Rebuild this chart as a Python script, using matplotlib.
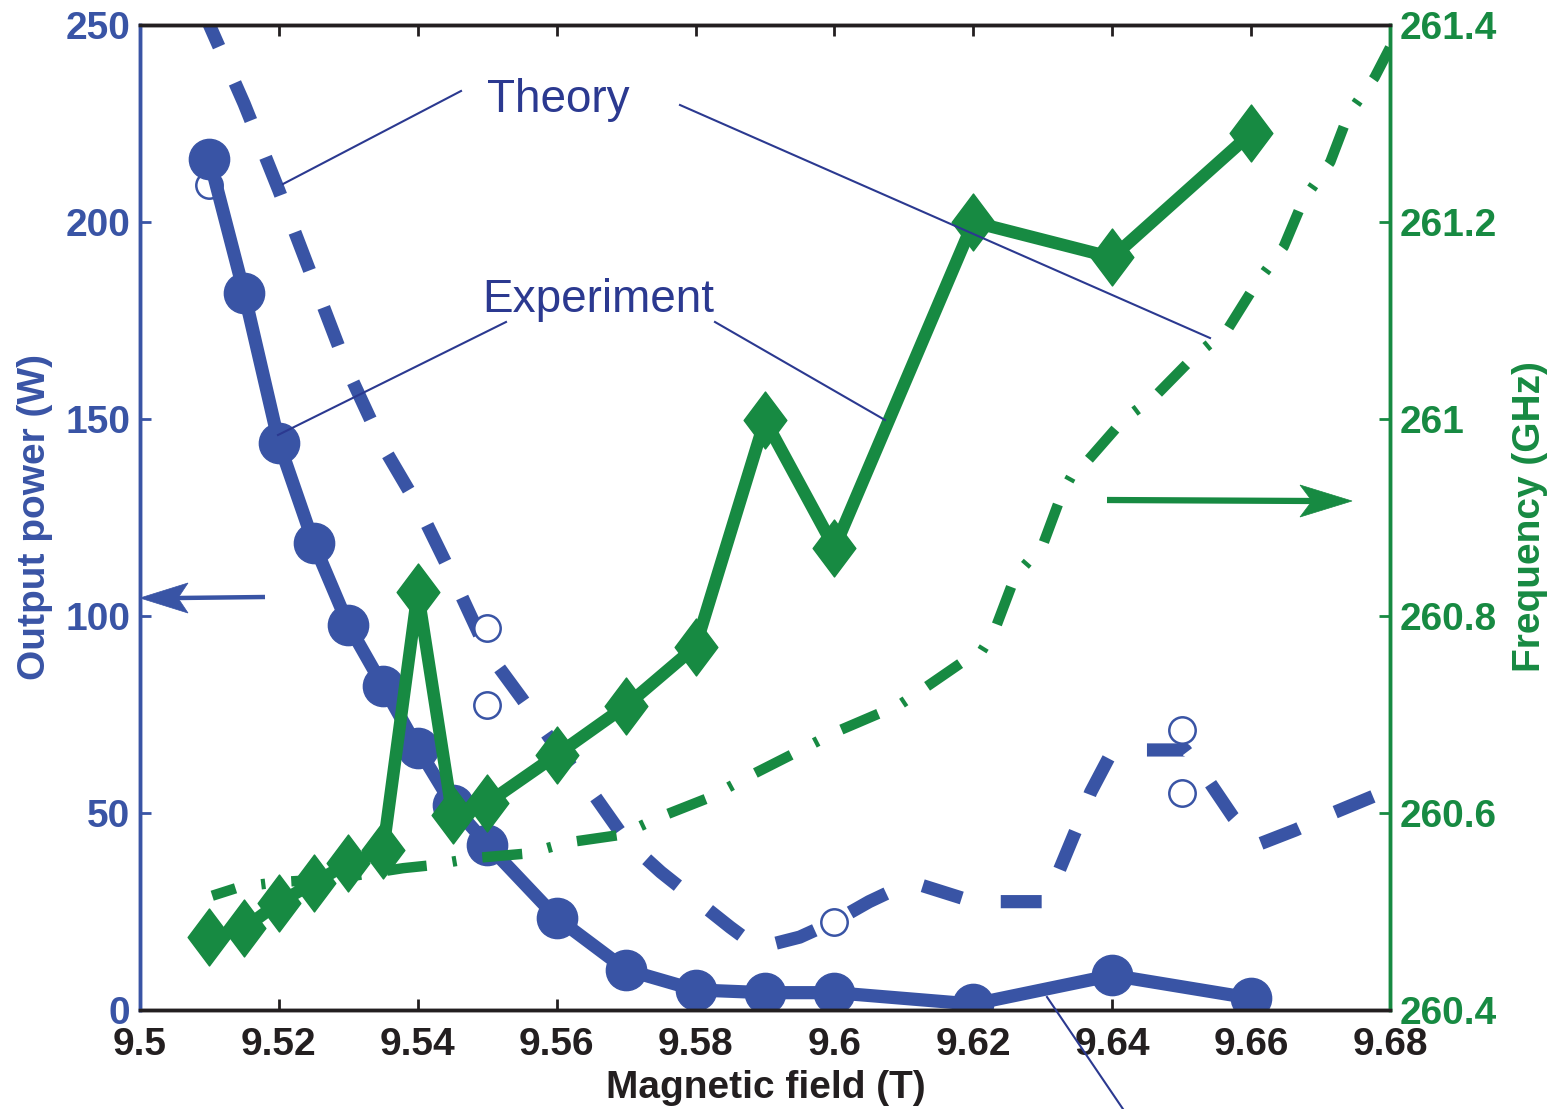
import matplotlib
matplotlib.use("Agg")
import matplotlib.pyplot as plt
import numpy as np
from matplotlib.lines import Line2D
from matplotlib.patches import Polygon
from matplotlib.path import Path

plt.rcParams["font.family"] = ["Liberation Sans", "DejaVu Sans"]

# Colours
blue = "#3954a5"
green = "#178a42"
navy = "#2b3990"
black = "#231f20"

# Experiment (filled markers, solid lines)
field_exp = [9.51, 9.515, 9.52, 9.525, 9.53, 9.535, 9.54, 9.545, 9.55,
             9.56, 9.57, 9.58, 9.59, 9.60, 9.62, 9.64, 9.66]
power_exp = [216, 182, 144, 118.5, 97.7, 82.2, 66.5, 52, 42,
             23.4, 10.2, 5.1, 4.4, 4.4, 1.5, 8.8, 3]
freq_exp = [260.474, 260.483, 260.509, 260.529, 260.549, 260.562, 260.824,
            260.598, 260.610, 260.659, 260.709, 260.769, 260.999, 260.869,
            261.200, 261.164, 261.290]

# Theory, power (dashed curve)
field_th_power = [9.509, 9.51, 9.515, 9.52, 9.525, 9.53, 9.535, 9.54, 9.545,
                  9.55, 9.555, 9.56, 9.565, 9.57, 9.575, 9.58, 9.585, 9.589,
                  9.595, 9.60, 9.605, 9.611, 9.62, 9.6305, 9.6349, 9.6369,
                  9.6395, 9.645, 9.6505, 9.6541, 9.6574, 9.661, 9.6664,
                  9.6718, 9.677, 9.68]
power_th = [254, 250, 230, 208, 185, 162, 143, 128, 110,
            91, 79, 66.5, 55.5, 43, 35, 28, 21, 15.8,
            18.5, 22.5, 27.5, 32.5, 27.5, 27.5, 46.2, 55.3,
            64, 66, 66, 57.6, 49, 42, 45.7,
            50, 53.8, 56]

# Theory, power (open circles)
field_th_pts = [9.51, 9.55, 9.55, 9.60, 9.65, 9.65]
power_th_pts = [209.4, 97, 77.4, 22.3, 71, 55]

# Theory, frequency (dash-dot curve)
field_th_freq = [9.5104, 9.5144, 9.5202, 9.5278, 9.5379, 9.542, 9.5478,
                 9.5559, 9.5615, 9.5694, 9.5749, 9.5821, 9.5876, 9.5946,
                 9.6001, 9.6094, 9.6126, 9.6192, 9.621, 9.6231, 9.626,
                 9.630, 9.6328, 9.6346, 9.6365, 9.6416, 9.6463, 9.6516,
                 9.6567, 9.6606, 9.6647, 9.6675, 9.6714, 9.674, 9.6778, 9.68]
freq_th = [260.516, 260.525, 260.530, 260.533, 260.544, 260.547, 260.554,
           260.559, 260.570, 260.578, 260.596, 260.616, 260.637, 260.662,
           260.682, 260.710, 260.725, 260.757, 260.762, 260.786, 260.840,
           260.872, 260.925, 260.948, 260.958, 260.999, 261.024, 261.062,
           261.092, 261.136, 261.175, 261.222, 261.261, 261.309, 261.347,
           261.377]

x_ticks = [9.5, 9.52, 9.54, 9.56, 9.58, 9.6, 9.62, 9.64, 9.66, 9.68]
power_ticks = [0, 50, 100, 150, 200, 250]
freq_ticks = [260.4, 260.6, 260.8, 261, 261.2, 261.4]

W, H = 1558, 1109


def fx(px):
    return px / W


def fy(py):
    return 1 - py / H


def notched_arrow(tail, tip, half_width, head_len, notch, color, lw):
    # shaft plus a MATLAB-like notched head, given in figure pixels
    (x0, y0), (x1, y1) = tail, tip
    sgn = 1 if x1 > x0 else -1
    back = x1 - sgn * head_len
    inner = x1 - sgn * notch
    fig.add_artist(Line2D([fx(x0), fx(inner)], [fy(y0), fy(y1)], lw=lw,
                          color=color, transform=fig.transFigure,
                          solid_capstyle="butt"))
    head = [(x1, y1), (back, y1 - half_width), (inner, y1), (back, y1 + half_width)]
    fig.add_artist(Polygon([(fx(a), fy(b)) for a, b in head], closed=True,
                           facecolor=color, edgecolor=color, lw=0.5,
                           transform=fig.transFigure))


diamond = Path([(0, 1), (0.75, 0), (0, -1), (-0.75, 0), (0, 1)],
               [Path.MOVETO, Path.LINETO, Path.LINETO, Path.LINETO, Path.CLOSEPOLY])

fig = plt.figure(figsize=(W / 100, H / 100), dpi=100)
ax = fig.add_axes([fx(140), fy(1010), fx(1250), 985 / H])
ax2 = ax.twinx()

# power axis
ax.plot(field_th_power, power_th, color=blue, lw=9.5,
        linestyle=(0, (3.1, 3.0)), dash_capstyle="butt")
ax.plot(field_th_pts, power_th_pts, "o", ms=19, mfc="white", mec=blue, mew=1.8,
        linestyle="none")
ax.plot(field_exp, power_exp, "-o", color=blue, lw=9.5, ms=29)

# frequency axis
ax2.plot(field_th_freq, freq_th, color=green, lw=7.5,
         linestyle=(1.5, (3.85, 2.5, 0.4, 2.5)), dash_capstyle="butt")
ax2.plot(field_exp, freq_exp, color=green, lw=9, marker=diamond, ms=41)

ax.set_xlim(9.5, 9.68)
ax.set_ylim(0, 250)
ax2.set_ylim(260.4, 261.4)

ax.set_xticks(x_ticks)
ax.set_xticklabels(["%g" % t for t in x_ticks])
ax.set_yticks(power_ticks)
ax.set_yticklabels(["%g" % t for t in power_ticks])
ax2.set_yticks(freq_ticks)
ax2.set_yticklabels(["%g" % t for t in freq_ticks])

ax.tick_params(axis="x", direction="in", length=8, width=2, color=black,
               top=True, labelsize=28, labelcolor=black, pad=12)
ax.tick_params(axis="y", direction="in", length=8, width=2, color=blue,
               labelsize=28, labelcolor=blue, pad=7)
ax2.tick_params(axis="y", direction="in", length=8, width=2, color=green,
                labelsize=28, labelcolor=green, pad=7)
for lab in ax.get_xticklabels() + ax.get_yticklabels() + ax2.get_yticklabels():
    lab.set_fontweight("bold")

for a in (ax, ax2):
    for s in a.spines.values():
        s.set_linewidth(2.5)
    a.spines["top"].set_color(black)
    a.spines["bottom"].set_color(black)
    a.spines["left"].set_color(blue)
    a.spines["right"].set_color(green)

# axis labels
fig.text(fx(766), fy(1098), "Magnetic field (T)", ha="center", va="baseline",
         fontsize=28, fontweight="bold", color=black)
fig.text(fx(35), fy(517), "Output power (W)", ha="center", va="center",
         rotation=90, fontsize=28, fontweight="bold", color=blue)
fig.text(fx(1530), fy(517), "Frequency (GHz)", ha="center", va="center",
         rotation=90, fontsize=28, fontweight="bold", color=green)

# arrows pointing to the axes
notched_arrow((265, 597), (140, 598), 15, 48, 38, blue, 3.2)
notched_arrow((1107, 500), (1352, 501), 16, 52, 40, green, 4.5)

# labels with pointer lines
fig.text(fx(487), fy(112), "Theory", ha="left", va="baseline",
         fontsize=33, color=navy)
fig.text(fx(482), fy(312), "Experiment", ha="left", va="baseline",
         fontsize=33, color=navy)
pointers = [
    ((461, 91), (283, 184)),
    ((680, 105), (1210, 338)),
    ((506, 322), (278, 435)),
    ((715, 322), (885, 420)),
    ((1047, 997), (1125, 1112)),
]
for (x0, y0), (x1, y1) in pointers:
    fig.add_artist(Line2D([fx(x0), fx(x1)], [fy(y0), fy(y1)], lw=1.5,
                          color=navy, transform=fig.transFigure, zorder=10))

fig.savefig("out.png", dpi=100)
